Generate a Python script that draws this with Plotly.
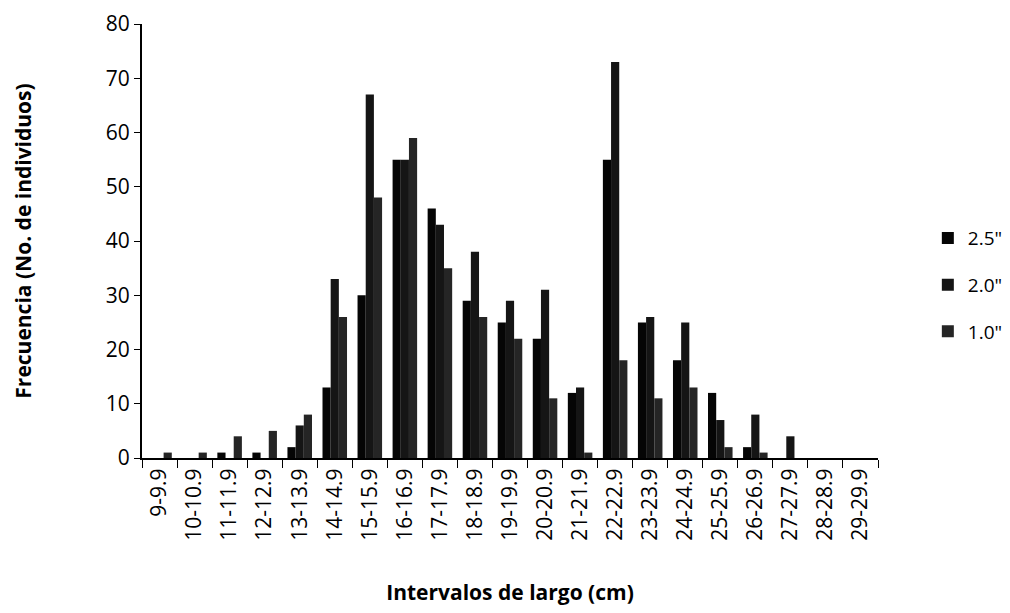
import plotly.graph_objects as go

categories = ['9-9.9', '10-10.9', '11-11.9', '12-12.9', '13-13.9', '14-14.9', '15-15.9',
              '16-16.9', '17-17.9', '18-18.9', '19-19.9', '20-20.9', '21-21.9', '22-22.9',
              '23-23.9', '24-24.9', '25-25.9', '26-26.9', '27-27.9', '28-28.9', '29-29.9']

malla_25 = [0, 0, 1, 1, 2, 13, 30, 55, 46, 29, 25, 22, 12, 55, 25, 18, 12, 2, 0, 0, 0]
malla_20 = [0, 0, 0, 0, 6, 33, 67, 55, 43, 38, 29, 31, 13, 73, 26, 25, 7, 8, 4, 0, 0]
malla_10 = [1, 1, 4, 5, 8, 26, 48, 59, 35, 26, 22, 11, 1, 18, 11, 13, 2, 1, 0, 0, 0]

font = "Open Sans"

fig = go.Figure()
fig.add_trace(go.Bar(x=categories, y=malla_25, name='2.5"', legendgroup='a',
                     marker=dict(color='#050505', line=dict(width=0))))
fig.add_trace(go.Bar(x=categories, y=malla_20, name='2.0"', legendgroup='b',
                     marker=dict(color='#151515', line=dict(width=0))))
fig.add_trace(go.Bar(x=categories, y=malla_10, name='1.0"', legendgroup='c',
                     marker=dict(color='#252525', line=dict(width=0))))

# page has 8px body margin, so the figure is a bit smaller than the window
fig.update_layout(
    width=1002, height=605,
    barmode='group', bargap=0.3, bargroupgap=0,
    plot_bgcolor='white', paper_bgcolor='white',
    margin=dict(l=134, r=132, t=16, b=155, autoexpand=False),
    font=dict(family=font, color='black', size=20),
    legend=dict(xref='container', yref='container', x=0.918, y=0.542,
                yanchor='middle', xanchor='left',
                font=dict(size=19), itemwidth=30, tracegroupgap=19),
    xaxis=dict(
        type='category', tickangle=-90, tickson='boundaries',
        ticks='outside', ticklen=8, tickcolor='black',
        showline=True, linecolor='black', linewidth=2, automargin=False,
        tickfont=dict(size=21),
        title=dict(text='<b>Intervalos de largo (cm)</b>', font=dict(size=21), standoff=46),
    ),
    yaxis=dict(
        range=[0, 80], dtick=10, showgrid=False, zeroline=False,
        ticks='outside', ticklen=6, tickcolor='black', ticklabeloverflow='allow',
        showline=True, linecolor='black', linewidth=2, automargin=False,
        tickfont=dict(size=21),
        title=dict(text='<b>Frecuencia (No. de individuos)</b>', font=dict(size=21), standoff=68),
    ),
)

fig.write_html("out.html")
